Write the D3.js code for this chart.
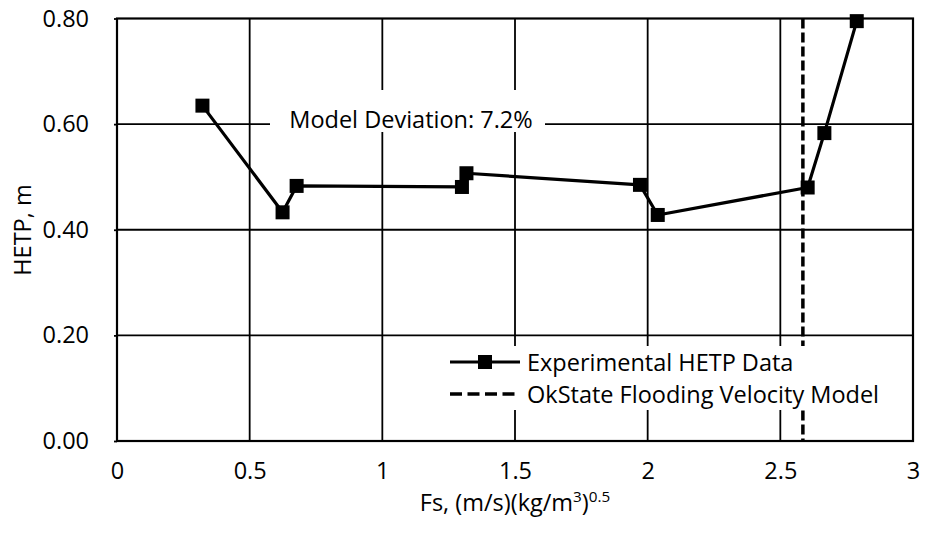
<!DOCTYPE html>
<html>
<head>
<meta charset="utf-8">
<script src="https://cdn.jsdelivr.net/npm/d3@7"></script>
<style>
  html, body { margin: 0; padding: 0; background: #fff; }
  svg text { font-family: "Open Sans", "Noto Sans", sans-serif; fill: #000; }
</style>
</head>
<body>
<svg id="chart" width="925" height="535"></svg>
<script>
// ---- data ----
const fsValues = [0.322, 0.624, 0.677, 1.300, 1.317, 1.971, 2.038, 2.603, 2.666, 2.788];
const hetpValues = [0.635, 0.433, 0.483, 0.481, 0.507, 0.485, 0.428, 0.480, 0.583, 0.795];
const floodingFs = [2.585];
const xTicks = [0, 0.5, 1, 1.5, 2, 2.5, 3];
const yTicks = [0, 0.2, 0.4, 0.6, 0.8];
const seriesNames = ["Experimental HETP Data", "OkState Flooding Velocity Model"];
const annotationText = ["Model Deviation: 7.2%"];

(function () {
// ---- layout ----
const svg = d3.select("#chart");
const pl = 117, pr = 913, pt = 18.5, pb = 441;
const x = d3.scaleLinear().domain([0, 3]).range([pl, pr]);
const y = d3.scaleLinear().domain([0, 0.8]).range([pb, pt]);
const fontSize = 23.5;

const g = svg.append("g");

// gridlines
g.selectAll("line.vgrid").data(xTicks.slice(1, -1)).enter().append("line")
  .attr("x1", d => x(d)).attr("x2", d => x(d)).attr("y1", pt).attr("y2", pb)
  .attr("stroke", "#000").attr("stroke-width", 1.8);
g.selectAll("line.hgrid").data(yTicks.slice(1, -1)).enter().append("line")
  .attr("x1", pl).attr("x2", pr).attr("y1", d => y(d)).attr("y2", d => y(d))
  .attr("stroke", "#000").attr("stroke-width", 1.8);

// frame
g.append("rect").attr("x", pl).attr("y", pt).attr("width", pr - pl).attr("height", pb - pt)
  .attr("fill", "none").attr("stroke", "#000").attr("stroke-width", 2.2);

// axes labels via d3 axes
const xAxis = d3.axisBottom(x).tickValues(xTicks).tickSize(0).tickPadding(21).tickFormat(d3.format("~g"));
const xg = svg.append("g").attr("transform", `translate(0,${pb})`).call(xAxis);
xg.select(".domain").remove();
xg.selectAll("text").attr("font-size", fontSize).attr("font-family", "Open Sans");

const yAxis = d3.axisLeft(y).tickValues(yTicks).tickSize(3).tickPadding(25).tickFormat(d3.format(".2f"));
const yg = svg.append("g").attr("transform", `translate(${pl},0)`).call(yAxis);
yg.select(".domain").remove();
yg.selectAll("line").attr("stroke", "#000").attr("stroke-width", 1.8);
yg.selectAll("text").attr("font-size", fontSize).attr("font-family", "Open Sans");

// axis titles
svg.append("text").attr("transform", "translate(22,230) rotate(-90)")
  .attr("text-anchor", "middle").attr("dominant-baseline", "central")
  .attr("font-size", fontSize).text("HETP, m");

const xt = svg.append("text").attr("x", 515).attr("y", 511)
  .attr("text-anchor", "middle").attr("font-size", fontSize);
xt.append("tspan").text("Fs, (m/s)(kg/m");
xt.append("tspan").attr("font-size", fontSize * 0.65).attr("dy", -9).text("3");
xt.append("tspan").attr("dy", 9).text(")");
xt.append("tspan").attr("font-size", fontSize * 0.65).attr("dy", -9).text("0.5");

// annotation
g.append("rect").attr("x", 270).attr("y", 90).attr("width", 275).attr("height", 42).attr("fill", "#fff");
g.append("text").attr("x", 411).attr("y", 119).attr("text-anchor", "middle")
  .attr("dominant-baseline", "central").attr("font-size", fontSize).text(annotationText[0]);

// flooding line
g.selectAll("line.flood").data(floodingFs).enter().append("line")
  .attr("x1", d => x(d)).attr("x2", d => x(d)).attr("y1", pt).attr("y2", pb)
  .attr("stroke", "#000").attr("stroke-width", 3.5).attr("stroke-dasharray", "10,4");

// series
const pts = fsValues.map((v, i) => [v, hetpValues[i]]);
const line = d3.line().x(d => x(d[0])).y(d => y(d[1]));
g.append("path").datum(pts).attr("d", line).attr("fill", "none")
  .attr("stroke", "#000").attr("stroke-width", 3.2).attr("stroke-linejoin", "round");
const ms = 14;
g.selectAll("rect.marker").data(pts).enter().append("rect")
  .attr("x", d => x(d[0]) - ms / 2).attr("y", d => y(d[1]) - ms / 2)
  .attr("width", ms).attr("height", ms).attr("fill", "#000");

// legend
const lg = svg.append("g");
lg.append("rect").attr("x", 440).attr("y", 346).attr("width", 471).attr("height", 64).attr("fill", "#fff");
const rows = [362, 394];
lg.append("line").attr("x1", 450).attr("x2", 520).attr("y1", rows[0]).attr("y2", rows[0])
  .attr("stroke", "#000").attr("stroke-width", 3.2);
lg.append("rect").attr("x", 485 - ms / 2).attr("y", rows[0] - ms / 2).attr("width", ms).attr("height", ms).attr("fill", "#000");
lg.append("line").attr("x1", 450).attr("x2", 520).attr("y1", rows[1]).attr("y2", rows[1])
  .attr("stroke", "#000").attr("stroke-width", 3.5).attr("stroke-dasharray", "12,5.5");
lg.selectAll("text.leg").data(seriesNames).enter().append("text")
  .attr("x", 527).attr("y", (d, i) => rows[i]).attr("dominant-baseline", "central")
  .attr("font-size", fontSize).text(d => d);
})();
</script>
</body>
</html>
